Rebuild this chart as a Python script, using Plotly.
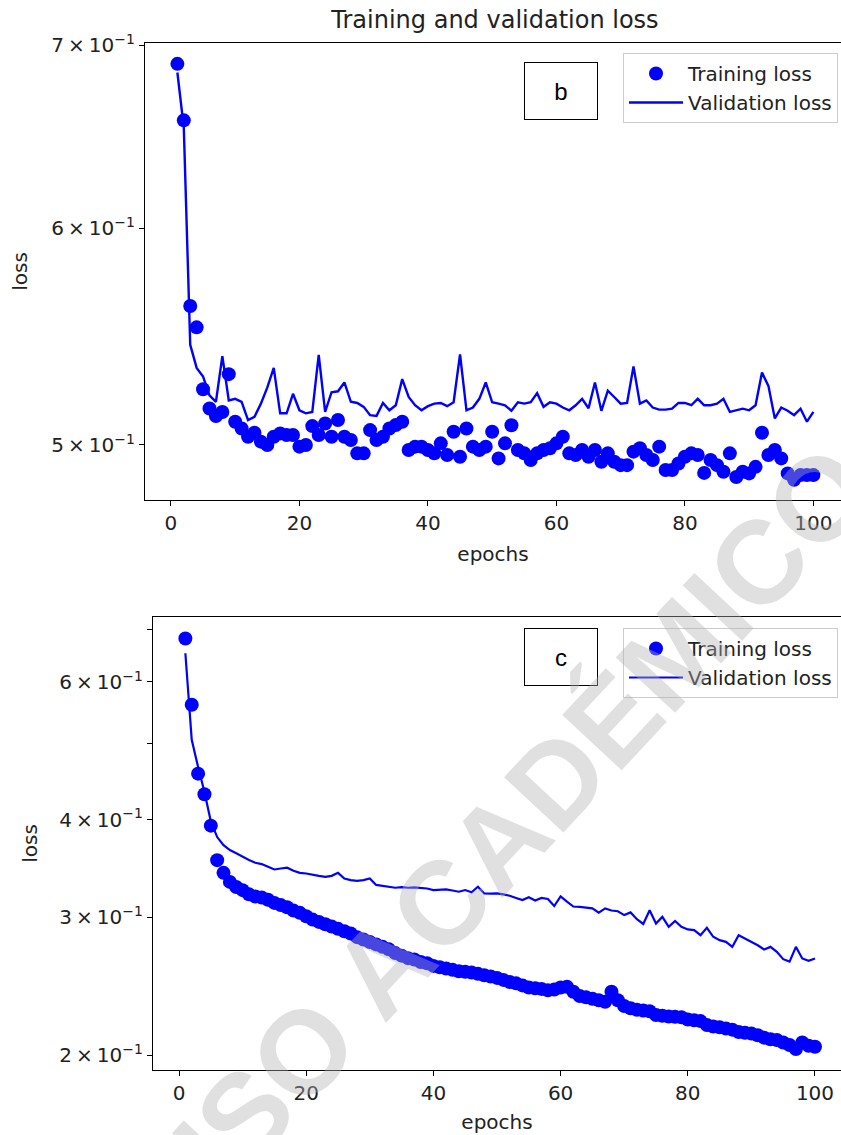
import plotly.graph_objects as go
import math

epochs = list(range(1, 101))

train_b = [0.689, 0.657, 0.562, 0.552, 0.524, 0.5156, 0.5123, 0.5141, 0.5307, 0.5099,
           0.5070, 0.5035, 0.5052, 0.5014, 0.5000, 0.5035, 0.5049, 0.5042, 0.5042, 0.4993,
           0.5000, 0.5080, 0.5042, 0.5091, 0.5035, 0.5106, 0.5035, 0.5021, 0.4965, 0.4965,
           0.5063, 0.5021, 0.5035, 0.5070, 0.5085, 0.5099, 0.4979, 0.4993, 0.4993, 0.4979,
           0.4965, 0.5007, 0.4958, 0.5056, 0.4951, 0.5070, 0.4993, 0.4979, 0.4993, 0.5056,
           0.4944, 0.5007, 0.5084, 0.4979, 0.4965, 0.4937, 0.4965, 0.4979, 0.4986, 0.5007,
           0.5035, 0.4965, 0.4958, 0.4979, 0.4951, 0.4979, 0.4930, 0.4965, 0.4930, 0.4916,
           0.4916, 0.4972, 0.4986, 0.4958, 0.4937, 0.4993, 0.4896, 0.4896, 0.4923, 0.4951,
           0.4965, 0.4958, 0.4884, 0.4937, 0.4916, 0.4889, 0.4965, 0.4867, 0.4889, 0.4882,
           0.4909, 0.5052, 0.4958, 0.4979, 0.4944, 0.4882, 0.4856, 0.4875, 0.4875, 0.4875]

val_b = [0.684, 0.653, 0.544, 0.5335, 0.5296, 0.5213, 0.5185, 0.5388, 0.5191, 0.5198,
         0.5185, 0.5106, 0.5120, 0.5177, 0.5248, 0.5335, 0.5135, 0.5135, 0.5220, 0.5148,
         0.5135, 0.5141, 0.5394, 0.5141, 0.5227, 0.5231, 0.5270, 0.5185, 0.5180, 0.5163,
         0.5127, 0.5124, 0.5180, 0.5148, 0.5170, 0.5285, 0.5206, 0.5170, 0.5148, 0.5166,
         0.5177, 0.5180, 0.5166, 0.5183, 0.5396, 0.5148, 0.5160, 0.5198, 0.5270, 0.5183,
         0.5177, 0.5170, 0.5146, 0.5183, 0.5177, 0.5183, 0.5223, 0.5163, 0.5183, 0.5177,
         0.5160, 0.5148, 0.5170, 0.5198, 0.5157, 0.5270, 0.5146, 0.5234, 0.5206, 0.5177,
         0.5180, 0.5342, 0.5177, 0.5191, 0.5160, 0.5151, 0.5151, 0.5155, 0.5180, 0.5180,
         0.5170, 0.5198, 0.5170, 0.5170, 0.5177, 0.5198, 0.5141, 0.5148, 0.5155, 0.5148,
         0.5170, 0.5314, 0.5255, 0.5113, 0.5160, 0.5146, 0.5127, 0.5155, 0.5099, 0.5141]

train_c = [0.682, 0.561, 0.458, 0.431, 0.393, 0.355, 0.342, 0.333, 0.328, 0.325,
           0.321, 0.319, 0.318, 0.316, 0.313, 0.311, 0.309, 0.306, 0.304, 0.301,
           0.298, 0.296, 0.294, 0.292, 0.290, 0.288, 0.286, 0.283, 0.281, 0.279,
           0.277, 0.275, 0.273, 0.270, 0.268, 0.266, 0.265, 0.263, 0.262, 0.260,
           0.259, 0.258, 0.257, 0.256, 0.2555, 0.255, 0.254, 0.253, 0.252, 0.251,
           0.2495, 0.248, 0.247, 0.2455, 0.244, 0.2435, 0.243, 0.242, 0.2425, 0.244,
           0.2445, 0.241, 0.238, 0.237, 0.236, 0.235, 0.234, 0.241, 0.235, 0.231,
           0.2295, 0.2285, 0.228, 0.2275, 0.225, 0.2245, 0.224, 0.2238, 0.2235, 0.222,
           0.2215, 0.221, 0.2185, 0.2175, 0.217, 0.2162, 0.2155, 0.214, 0.2135, 0.213,
           0.212, 0.2105, 0.2095, 0.209, 0.2075, 0.206, 0.2035, 0.2075, 0.2055, 0.2049]

val_c = [0.653, 0.506, 0.467, 0.434, 0.398, 0.380, 0.371, 0.3657, 0.3622, 0.3585,
         0.3551, 0.3523, 0.3509, 0.3481, 0.3454, 0.3464, 0.3472, 0.3441, 0.3420, 0.3413,
         0.3399, 0.3390, 0.3380, 0.3390, 0.3420, 0.3363, 0.3347, 0.3340, 0.3347, 0.3363,
         0.3300, 0.3293, 0.3283, 0.3273, 0.3279, 0.3273, 0.3276, 0.3273, 0.3266, 0.3251,
         0.3257, 0.3257, 0.3247, 0.3235, 0.3251, 0.3230, 0.3283, 0.3219, 0.3216, 0.3219,
         0.3210, 0.3197, 0.3176, 0.3156, 0.3183, 0.3152, 0.3176, 0.3166, 0.3101, 0.3190,
         0.3142, 0.3097, 0.3094, 0.3087, 0.3080, 0.3041, 0.3080, 0.3061, 0.3054, 0.3020,
         0.3044, 0.2983, 0.2942, 0.3063, 0.2946, 0.3004, 0.2917, 0.2968, 0.2917, 0.2895,
         0.2889, 0.2846, 0.2909, 0.2833, 0.2805, 0.2791, 0.2750, 0.2846, 0.2819, 0.2789,
         0.2763, 0.2729, 0.2750, 0.2710, 0.2652, 0.2633, 0.2750, 0.2658, 0.2640, 0.2658]

x_ticks = [0, 20, 40, 60, 80, 100]
TS = "\u2009×\u2009"
yb_ticks = [0.5, 0.6, 0.7]
yb_text = [f"5{TS}10<sup>−1</sup>", f"6{TS}10<sup>−1</sup>", f"7{TS}10<sup>−1</sup>"]
yc_ticks = [0.2, 0.3, 0.4, 0.5, 0.6, 0.7]
yc_text = [f"2{TS}10<sup>−1</sup>", f"3{TS}10<sup>−1</sup>", f"4{TS}10<sup>−1</sup>", "",
           f"6{TS}10<sup>−1</sup>", ""]

W, H = 841, 1135
FONT = "DejaVu Sans"
TXT = "#222222"
BLUE = "#0000ff"

fig = go.Figure()
fig.add_trace(go.Scatter(x=epochs, y=train_b, mode="markers", name="Training loss",
                         marker=dict(color=BLUE, size=14), xaxis="x", yaxis="y",
                         legend="legend"))
fig.add_trace(go.Scatter(x=epochs, y=val_b, mode="lines", name="Validation loss",
                         line=dict(color=BLUE, width=2.4), xaxis="x", yaxis="y",
                         legend="legend"))
fig.add_trace(go.Scatter(x=epochs, y=train_c, mode="markers", name="Training loss",
                         marker=dict(color=BLUE, size=14), xaxis="x2", yaxis="y2",
                         legend="legend2"))
fig.add_trace(go.Scatter(x=epochs, y=val_c, mode="lines", name="Validation loss",
                         line=dict(color=BLUE, width=2.2), xaxis="x2", yaxis="y2",
                         legend="legend2"))

def px_x(p):
    return p / W

def px_y(p):
    return 1 - p / H

axis_common = dict(showline=True, linecolor="black", linewidth=1.2, mirror=True,
                   ticks="outside", ticklen=5, tickcolor="black", tickwidth=1.2,
                   showgrid=False, zeroline=False, automargin=False,
                   tickfont=dict(family=FONT, size=20, color=TXT))

title_font = dict(family=FONT, size=20, color=TXT)

fig.update_layout(
    width=W, height=H, margin=dict(l=0, r=0, t=0, b=0, autoexpand=False),
    paper_bgcolor="white", plot_bgcolor="white",
    font=dict(family=FONT, size=20, color=TXT),
    showlegend=True,
    title=dict(text="Training and validation loss", x=495 / W, xanchor="center",
               y=px_y(20), yanchor="middle", font=dict(family=FONT, size=24, color=TXT)),
    xaxis=dict(domain=[px_x(145), 1], range=[-4.04, 104.3], tickvals=x_ticks,
               anchor="y", title=dict(text="epochs", standoff=12, font=title_font),
               **axis_common),
    yaxis=dict(domain=[px_y(500), px_y(43)], type="log",
               range=[math.log10(0.47739), math.log10(0.70118)],
               tickvals=yb_ticks, ticktext=yb_text, anchor="x",
               title=dict(text="loss", standoff=18, font=title_font),
               **axis_common),
    xaxis2=dict(domain=[px_x(153), 1], range=[-4.09, 104.09], tickvals=x_ticks,
                anchor="y2", title=dict(text="epochs", standoff=10, font=title_font),
                **axis_common),
    yaxis2=dict(domain=[px_y(1070), px_y(617)], type="log",
                range=[math.log10(0.19136), math.log10(0.7265)],
                tickvals=yc_ticks, ticktext=yc_text, anchor="x2",
                title=dict(text="loss", standoff=16, font=title_font),
                **axis_common),
    legend=dict(x=px_x(838), xanchor="right", y=px_y(53), yanchor="top",
                bgcolor="rgba(255,255,255,0.8)", bordercolor="#cccccc", borderwidth=1,
                font=dict(family=FONT, size=20, color=TXT), itemwidth=54,
                tracegroupgap=0),
    legend2=dict(x=px_x(838), xanchor="right", y=px_y(628), yanchor="top",
                 bgcolor="rgba(255,255,255,0.8)", bordercolor="#cccccc", borderwidth=1,
                 font=dict(family=FONT, size=20, color=TXT), itemwidth=54,
                 tracegroupgap=0),
)

# panel letters
for letter, cy in (("b", 91), ("c", 657)):
    fig.add_annotation(text=letter, xref="paper", yref="paper", x=px_x(561), y=px_y(cy),
                       xanchor="center", yanchor="middle", showarrow=False,
                       width=70, height=54, bgcolor="white", bordercolor="black",
                       borderwidth=1, font=dict(family="Liberation Sans", size=24,
                                                color="black"))

# watermark
fig.add_annotation(text="<b>USO ACADÉMICO</b>", xref="paper", yref="paper",
                   x=px_x(505), y=px_y(835), xanchor="center", yanchor="middle",
                   showarrow=False, textangle=-47,
                   font=dict(family="Liberation Sans", size=118,
                             color="rgba(177,177,177,0.4)"))

fig.write_html("out.html", config={"displayModeBar": False},
               post_script="document.body.style.margin='0';"
                           "document.body.style.overflow='hidden';")
